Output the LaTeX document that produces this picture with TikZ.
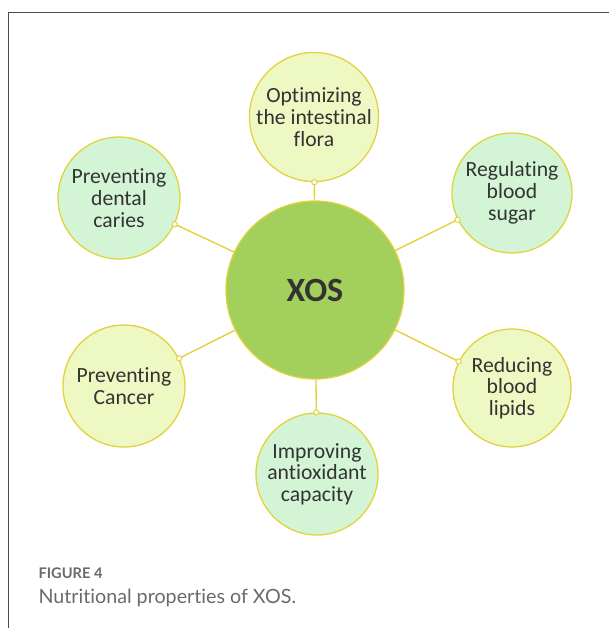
\documentclass[tikz,border=0pt]{standalone}
\usepackage{fontspec}
\setmainfont{Carlito}[Ligatures={NoCommon,NoRare}]
\newfontfamily\capfont{Lato}[Ligatures={NoCommon,NoRare}]
\usetikzlibrary{positioning}

\definecolor{leafgreen}{HTML}{A3CF5C}
\definecolor{mintfill}{HTML}{D3F5D5}
\definecolor{limefill}{HTML}{EEF8C2}
\definecolor{rimyellow}{HTML}{E2D23C}
\definecolor{inkgray}{HTML}{333333}
\definecolor{capgray}{HTML}{6A6A6A}

\begin{document}
\begin{tikzpicture}[
    prop/.style={circle, draw=rimyellow, line width=1.1pt, text=inkgray, align=center,
        inner sep=0pt, minimum size=3.66cm, font=\fontsize{18.5}{18.5}\selectfont},
    hub/.style={circle, draw=rimyellow, line width=1.1pt, fill=leafgreen, text=inkgray,
        minimum size=5.34cm, font=\fontsize{29}{30}\selectfont\bfseries},
    link/.style={draw=rimyellow, line width=1.2pt},
    knob/.style={circle, draw=rimyellow, fill=white, line width=0.8pt, inner sep=0pt, minimum size=4.5pt}
]
    \useasboundingbox (-9.45,8.7) rectangle (8.82,-10.14);
    \draw[black!70, line width=0.6pt] (-9.21,-10.14) -- (-9.21,8.34) -- (8.82,8.34);

    % centre and the six properties
    \node[hub] (xos) at (0,0) {XOS};
    \node[prop, fill=limefill, minimum size=3.78cm] (flora) at (-0.03,5.19) {Optimizing\\the intestinal\\flora};
    \node[prop, fill=mintfill, minimum size=3.6cm] (sugar) at (5.91,2.91) {Regulating\\blood\\sugar};
    \node[prop, fill=limefill, minimum size=3.54cm] (lipids) at (5.91,-2.94) {Reducing\\blood\\lipids};
    \node[prop, fill=mintfill] (antiox) at (0.06,-5.52) {Improving\\antioxidant\\capacity};
    \node[prop, fill=limefill] (cancer) at (-5.73,-2.88) {Preventing\\Cancer};
    \node[prop, fill=mintfill] (caries) at (-5.88,2.76) {Preventing\\dental\\caries};

    \foreach \n in {flora,sugar,lipids,antiox,cancer,caries}
        \draw[link] (xos) -- (\n) node[knob, pos=1] {};

    % caption
    \node[anchor=base west, inner sep=0pt, text=capgray, font=\capfont\fontsize{12.5}{14}\selectfont\bfseries] (fig) at (-8.3,-8.64) {FIGURE 4};
    \node[anchor=base west, inner sep=0pt, text=capgray, font=\capfont\fontsize{16.8}{19}\selectfont] (cap) at (-8.3,-9.39) {Nutritional properties of XOS.};
\end{tikzpicture}
\end{document}
